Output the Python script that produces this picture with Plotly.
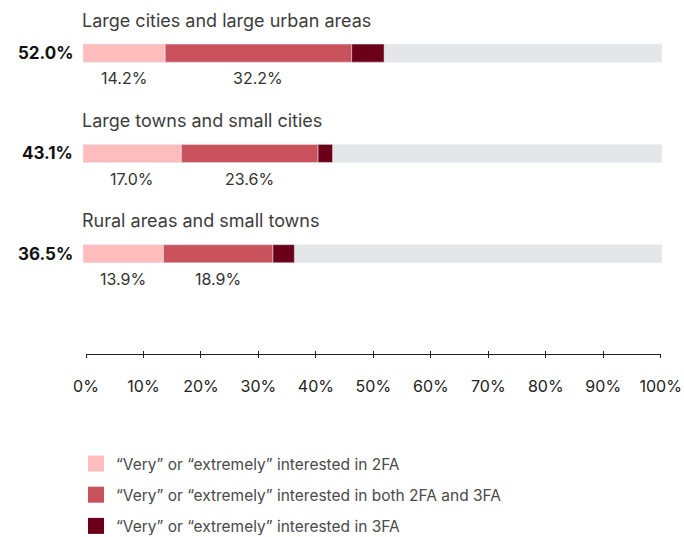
import plotly.graph_objects as go

categories = ["Large cities and large urban areas", "Large towns and small cities", "Rural areas and small towns"]
totals = [52.0, 43.1, 36.5]
only_2fa = [14.2, 17.0, 13.9]
both = [32.2, 23.6, 18.9]
only_3fa = [round(t - a - b, 1) for t, a, b in zip(totals, only_2fa, both)]
series_names = [
    "“Very” or “extremely” interested in 2FA",
    "“Very” or “extremely” interested in both 2FA and 3FA",
    "“Very” or “extremely” interested in 3FA",
]
colors = ["#FEBCBC", "#C9525D", "#6C0019"]
gray = "#E5E6E8"
tick_vals = [0, 10, 20, 30, 40, 50, 60, 70, 80, 90, 100]
tick_text = [f"{v}%" for v in tick_vals]

FONT = "Inter"
ypos = list(range(len(categories)))
fig = go.Figure()

W, H = 684, 537
PW = 579.0  # plot width px

fig.add_trace(go.Bar(y=ypos, x=[100] * len(ypos), orientation="h", marker_color=gray,
                     width=0.18, showlegend=False, hoverinfo="skip", base=0))
bases = [0] * len(ypos)
for vals, col in zip([only_2fa, both, only_3fa], colors):
    fig.add_trace(go.Bar(y=ypos, x=vals, base=bases[:], orientation="h", marker_color=col,
                         width=0.18, showlegend=False))
    bases = [b + v for b, v in zip(bases, vals)]

for name, col in zip(series_names, colors):
    fig.add_trace(go.Scatter(x=[None], y=[None], mode="markers", name=name, legendgroup=name,
                             marker=dict(symbol="square", size=16, color=col)))

ann = []
for i, cat in enumerate(categories):
    ann.append(dict(x=-3 / PW, y=i - 0.33, xref="paper", yref="y", text=cat, showarrow=False,
                    xanchor="left", yanchor="middle", font=dict(family=FONT, size=18, color="#3d3d3d")))
    ann.append(dict(x=-8 / PW, y=i, xref="paper", yref="y", text=f"<b>{totals[i]:.1f}%</b>", showarrow=False,
                    xanchor="right", yanchor="middle", font=dict(family=FONT, size=17, color="#111")))
    ann.append(dict(x=only_2fa[i] / 2, y=i + 0.25, xref="x", yref="y", text=f"{only_2fa[i]:.1f}%",
                    showarrow=False, xanchor="center", yanchor="middle",
                    font=dict(family=FONT, size=16, color="#333")))
    ann.append(dict(x=only_2fa[i] + both[i] / 2, y=i + 0.25, xref="x", yref="y", text=f"{both[i]:.1f}%",
                    showarrow=False, xanchor="center", yanchor="middle",
                    font=dict(family=FONT, size=16, color="#333")))

fig.update_layout(
    width=W, height=H,
    margin=dict(l=83, r=22, t=3, b=183, autoexpand=False),
    plot_bgcolor="rgba(0,0,0,0)", paper_bgcolor="white",
    barmode="overlay",
    font=dict(family=FONT, color="#333"),
    annotations=ann,
    xaxis=dict(range=[0, 100], showgrid=False, zeroline=False, showticklabels=False,
               showline=False, ticks="", fixedrange=True),
    yaxis=dict(range=[3.0, -0.5], showgrid=False, zeroline=False, showticklabels=False,
               showline=False, ticks="", fixedrange=True),
    xaxis2=dict(range=[0, 100], anchor="y2", side="bottom",
                domain=[3 / PW, 577.7 / PW], showgrid=False, zeroline=False,
                showline=True, linecolor="#222", linewidth=1.2,
                ticks="outside", ticklen=3, tickwidth=1.2, tickcolor="#222",
                tickvals=tick_vals, ticktext=tick_text, ticklabelstandoff=15,
                tickfont=dict(family=FONT, size=16, color="#222")),
    xaxis3=dict(range=[0, 100], overlaying="x2", anchor="y2", side="bottom",
                showgrid=False, zeroline=False,
                showline=False, ticks="inside", ticklen=3, tickwidth=1.2, tickcolor="#222",
                tickvals=tick_vals, showticklabels=False),
    yaxis2=dict(range=[0, 1], domain=[0, 1], anchor="x2", visible=False, showgrid=False,
                zeroline=False),
    legend=dict(xref="container", yref="container", x=76 / W, y=1 - 447 / H,
                xanchor="left", yanchor="top", traceorder="grouped",
                tracegroupgap=8, font=dict(family=FONT, size=15.5, color="#4a4a4a"),
                bgcolor="rgba(0,0,0,0)"),
)
fig.add_trace(go.Scatter(x=[None], y=[None], xaxis="x2", yaxis="y2", showlegend=False, hoverinfo="skip"))
fig.add_trace(go.Scatter(x=[None], y=[None], xaxis="x3", yaxis="y2", showlegend=False, hoverinfo="skip"))

fig.write_html("out.html")
